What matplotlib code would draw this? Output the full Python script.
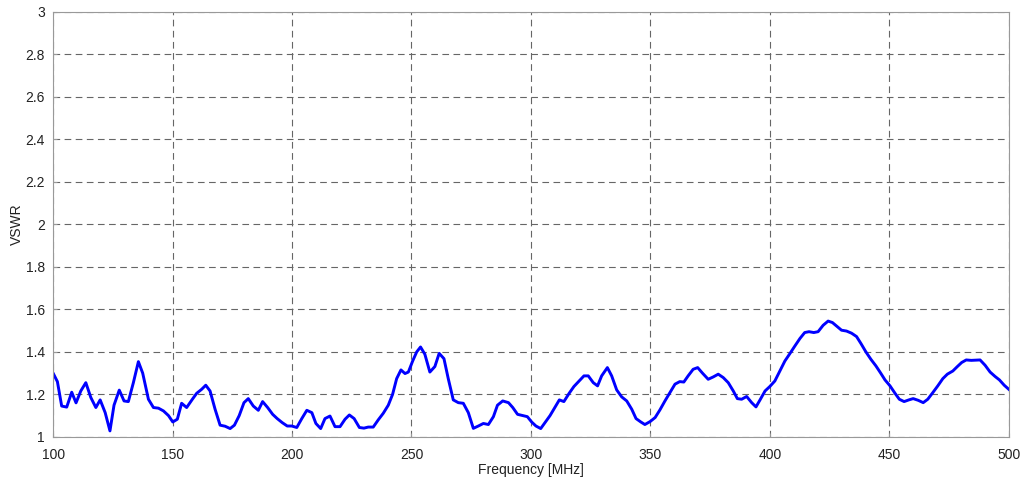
import matplotlib.pyplot as plt

plt.rcParams['font.family'] = ['Liberation Sans', 'DejaVu Sans']

# frequency [MHz] and VSWR
freq = [100.0, 101.8, 103.6, 105.7, 107.8, 109.6, 111.6, 113.7, 115.8, 117.9,
        119.7, 121.8, 123.8, 125.5, 127.7, 129.7, 131.5, 133.6, 135.7, 137.5,
        139.9, 142.0, 144.1, 146.2, 148.3, 150.1, 152.0, 153.8, 155.9, 158.3,
        160.1, 162.2, 163.9, 165.7, 167.8, 169.9, 172.0, 174.1, 175.9, 177.9,
        179.9, 181.7, 183.8, 185.9, 187.7, 189.8, 191.9, 193.8, 195.9, 198.0,
        199.9, 202.0, 204.1, 206.2, 208.3, 210.0, 212.0, 213.8, 215.9, 218.0,
        220.1, 222.2, 224.0, 226.0, 228.2, 230.1, 231.9, 234.0, 236.1, 238.2,
        240.3, 242.1, 243.8, 245.6, 247.3, 248.7, 250.5, 252.2, 253.8, 255.6,
        257.7, 259.8, 261.6, 263.6, 265.4, 267.5, 269.6, 271.7, 273.8, 275.9,
        278.0, 280.1, 282.2, 284.3, 286.0, 288.2, 290.6, 292.4, 294.4, 296.6,
        298.5, 300.3, 302.1, 304.1, 305.9, 308.0, 310.0, 311.9, 313.8, 316.0,
        318.0, 320.2, 322.2, 324.0, 326.1, 327.9, 329.6, 332.0, 333.8, 335.9,
        338.0, 340.1, 342.2, 344.0, 346.0, 347.7, 349.9, 352.0, 354.0, 356.1,
        358.2, 360.3, 362.3, 364.0, 365.8, 367.9, 369.8, 371.8, 374.2, 376.3,
        378.4, 380.5, 382.6, 384.7, 386.4, 388.2, 390.3, 392.4, 394.2, 395.9,
        398.0, 400.0, 402.1, 404.2, 406.3, 408.4, 410.5, 412.6, 414.6, 416.4,
        418.4, 420.2, 422.3, 424.4, 426.2, 428.2, 430.0, 432.1, 434.2, 436.3,
        438.1, 440.2, 442.3, 444.4, 446.4, 448.2, 450.3, 452.4, 454.2, 456.2,
        458.2, 460.0, 462.1, 464.2, 466.1, 468.2, 470.3, 472.4, 474.3, 476.6,
        478.5, 480.3, 482.2, 484.3, 486.4, 488.0, 490.1, 492.2, 494.3, 496.1,
        498.1, 500.0]
vswr = [1.300, 1.260, 1.145, 1.140, 1.210, 1.160, 1.216, 1.255, 1.185, 1.138,
        1.174, 1.114, 1.028, 1.149, 1.220, 1.169, 1.166, 1.255, 1.354, 1.300,
        1.177, 1.138, 1.135, 1.122, 1.100, 1.070, 1.083, 1.158, 1.138, 1.177,
        1.205, 1.224, 1.243, 1.216, 1.130, 1.055, 1.050, 1.039, 1.055, 1.100,
        1.161, 1.180, 1.145, 1.125, 1.166, 1.138, 1.106, 1.086, 1.067, 1.051,
        1.051, 1.044, 1.086, 1.125, 1.114, 1.063, 1.039, 1.086, 1.098, 1.048,
        1.048, 1.083, 1.103, 1.086, 1.044, 1.041, 1.046, 1.046, 1.080, 1.111,
        1.149, 1.200, 1.274, 1.315, 1.298, 1.305, 1.357, 1.400, 1.423, 1.389,
        1.305, 1.331, 1.393, 1.368, 1.274, 1.174, 1.161, 1.158, 1.114, 1.040,
        1.051, 1.063, 1.058, 1.095, 1.149, 1.169, 1.161, 1.138, 1.106, 1.100,
        1.095, 1.070, 1.051, 1.039, 1.067, 1.100, 1.138, 1.174, 1.166, 1.205,
        1.237, 1.263, 1.287, 1.287, 1.255, 1.240, 1.287, 1.326, 1.287, 1.221,
        1.188, 1.169, 1.130, 1.086, 1.070, 1.058, 1.072, 1.091, 1.127, 1.169,
        1.208, 1.248, 1.260, 1.258, 1.287, 1.318, 1.326, 1.300, 1.271, 1.282,
        1.295, 1.279, 1.255, 1.216, 1.180, 1.177, 1.190, 1.161, 1.141, 1.174,
        1.216, 1.237, 1.263, 1.310, 1.357, 1.392, 1.428, 1.463, 1.491, 1.495,
        1.491, 1.495, 1.525, 1.545, 1.538, 1.519, 1.502, 1.498, 1.488, 1.472,
        1.440, 1.400, 1.365, 1.334, 1.300, 1.268, 1.240, 1.205, 1.177, 1.166,
        1.174, 1.180, 1.172, 1.161, 1.177, 1.208, 1.240, 1.274, 1.295, 1.310,
        1.331, 1.350, 1.362, 1.360, 1.361, 1.362, 1.337, 1.305, 1.284, 1.268,
        1.243, 1.224]

xticks = [100, 150, 200, 250, 300, 350, 400, 450, 500]
yticks = [1, 1.2, 1.4, 1.6, 1.8, 2, 2.2, 2.4, 2.6, 2.8, 3]
yticklabels = ['1', '1.2', '1.4', '1.6', '1.8', '2', '2.2', '2.4', '2.6', '2.8', '3']

fig = plt.figure(figsize=(10.21, 4.79), dpi=100)
ax = fig.add_axes([0.052, 0.088, 0.936, 0.887])
ax.plot(freq, vswr, color='#0000ff', linewidth=2.1)
ax.set_xlim(100, 500)
ax.set_ylim(1, 3)
ax.set_xticks(xticks)
ax.set_yticks(yticks)
ax.set_yticklabels(yticklabels)
ax.grid(True, linestyle=(0, (6, 4)), color='#666666', linewidth=0.8)
for s in ax.spines.values():
    s.set_color('#999999')
ax.tick_params(direction='in', length=3, colors='#999999', labelcolor='#222222',
               labelsize=10)
ax.tick_params(axis='x', pad=8)
ax.tick_params(axis='y', pad=6)
ax.set_xlabel('Frequency [MHz]', fontsize=10, labelpad=1, color='#222222')
ax.set_ylabel('VSWR', fontsize=10, labelpad=1, color='#222222')

plt.savefig('out.png', dpi=100)
